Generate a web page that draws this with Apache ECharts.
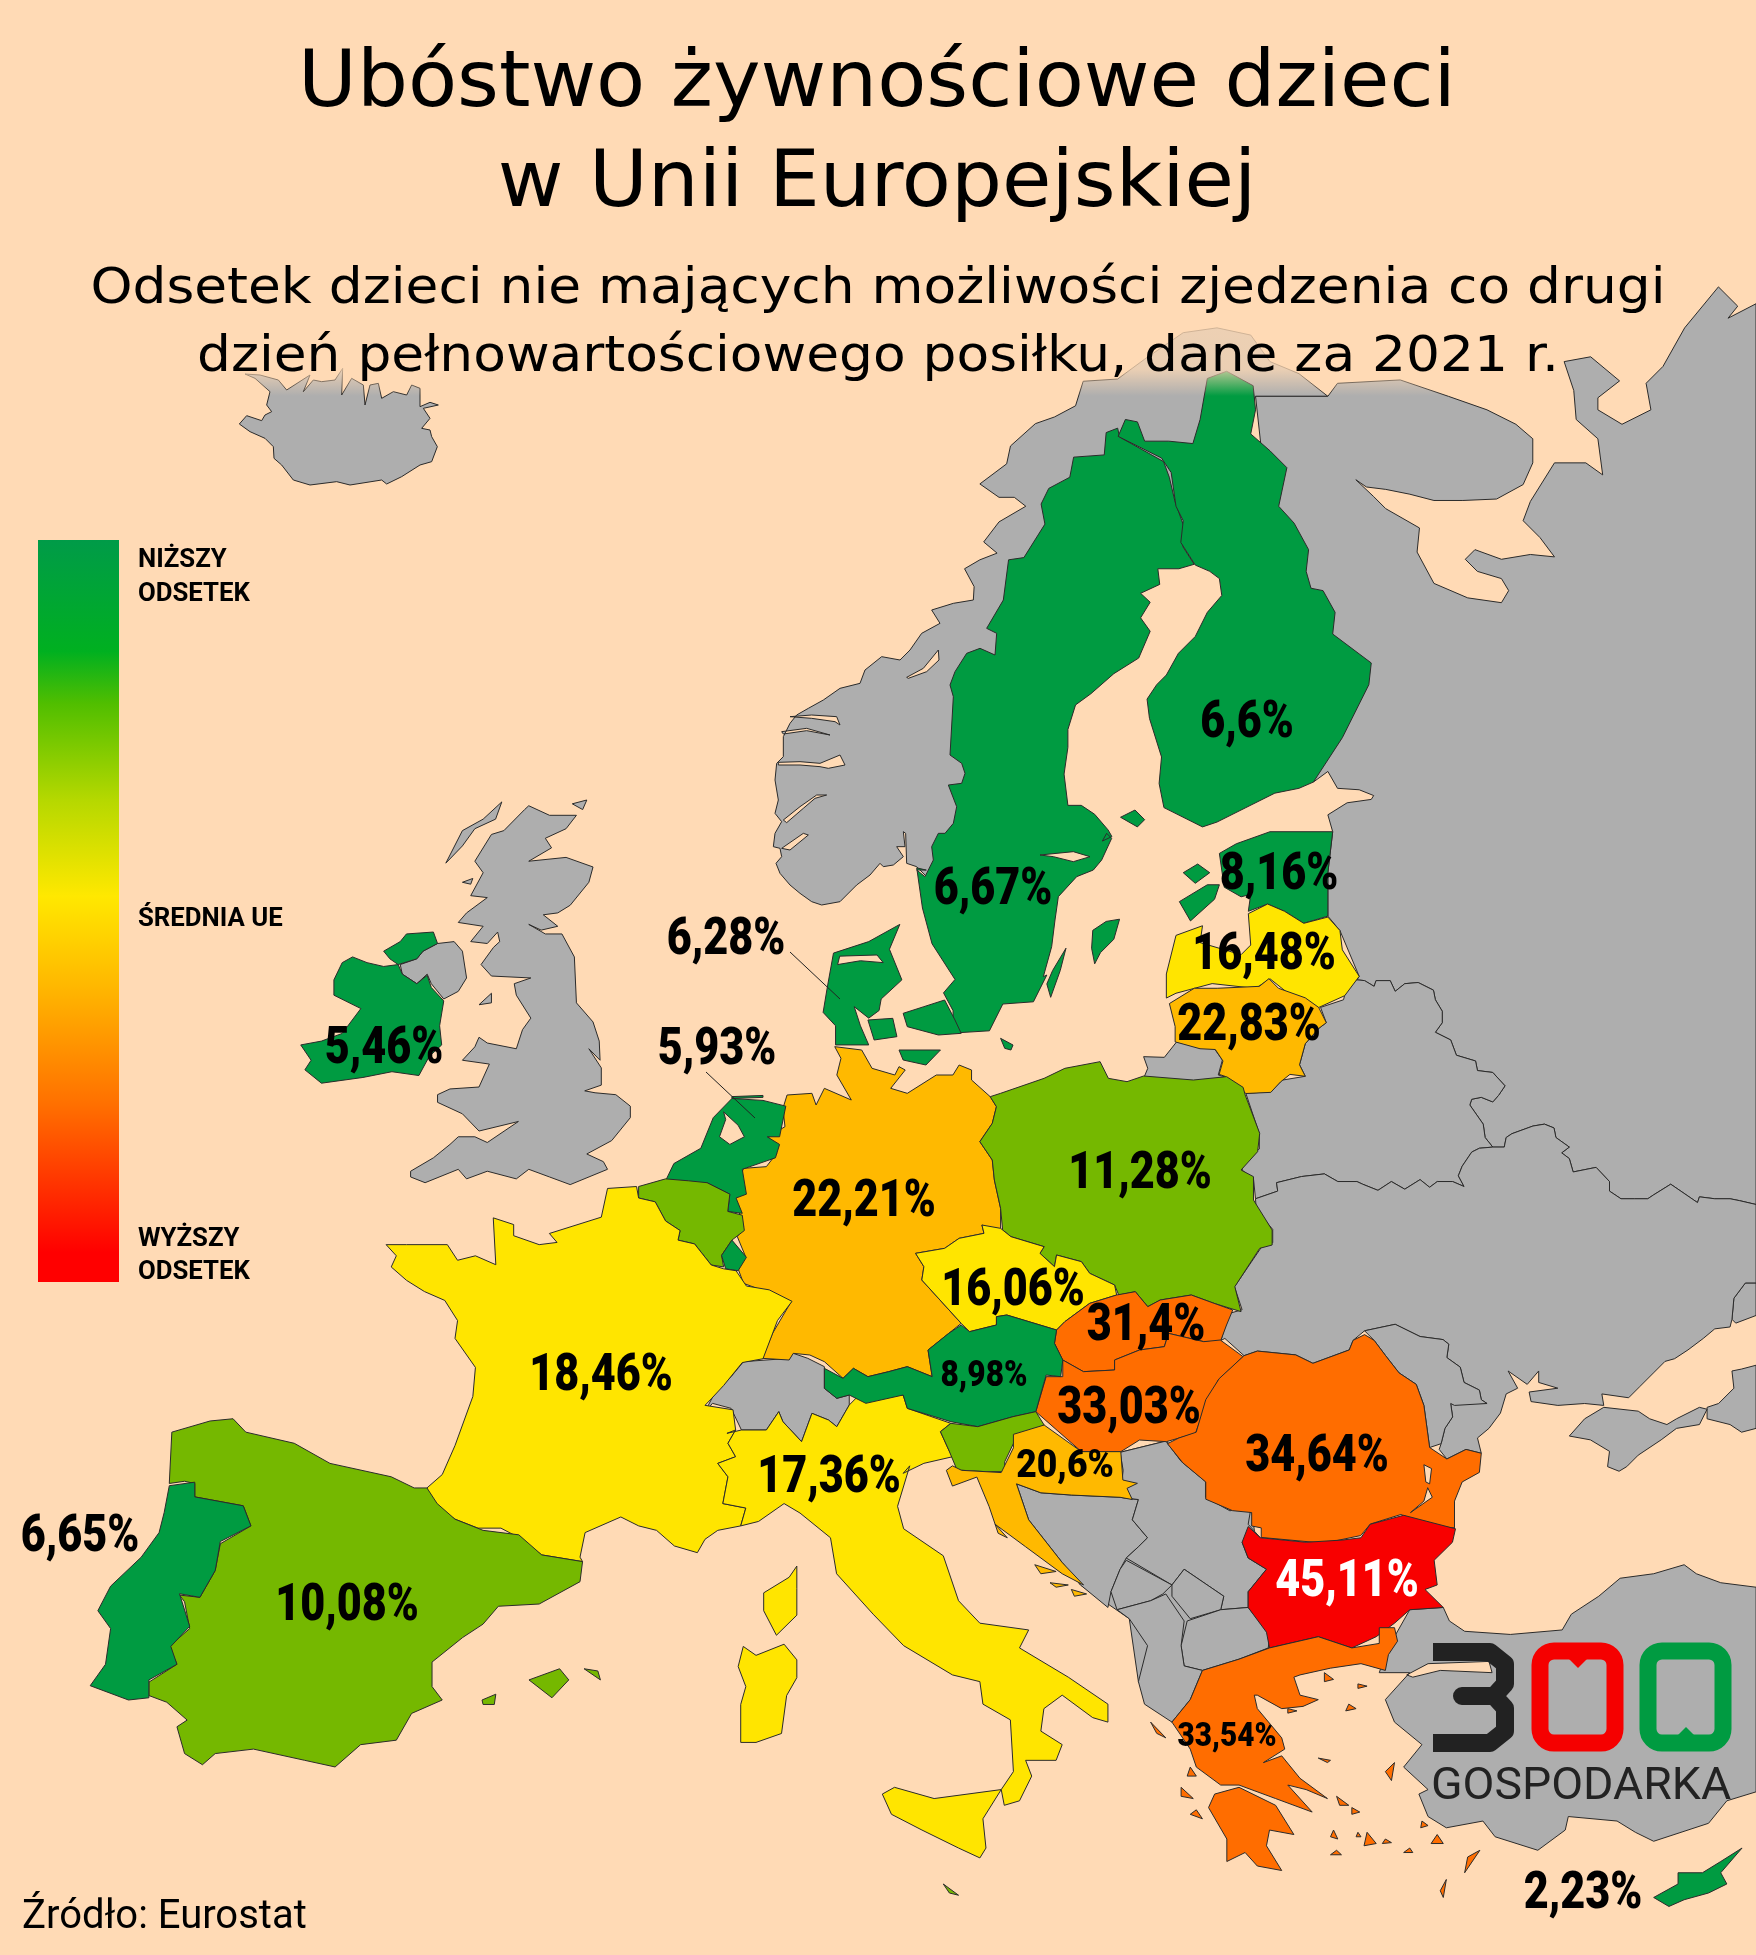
<!DOCTYPE html>
<html lang="pl"><head><meta charset="utf-8">
<style>html,body{margin:0;padding:0;background:#FFDAB5}#c{width:1756px;height:1955px}</style>
<script src="https://cdn.jsdelivr.net/npm/echarts@6/dist/echarts.min.js"></script>
</head><body><div id="c"></div>
<script>
// ---------- data ----------
const titleLines = ['Ubóstwo żywnościowe dzieci','w Unii Europejskiej'];
const subtitleLines = ['Odsetek dzieci nie mających możliwości zjedzenia co drugi','dzień pełnowartościowego posiłku, dane za 2021 r.'];
const sourceText = 'Źródło: Eurostat';
const countries = ['Finlandia','Szwecja','Estonia','Łotwa','Litwa','Irlandia','Dania','Holandia','Niemcy','Polska','Czechy','Słowacja','Austria','Węgry','Rumunia','Francja','Włochy','Chorwacja','Hiszpania','Portugalia','Bułgaria','Grecja','Cypr'];
const values    = [6.6,6.67,8.16,16.48,22.83,5.46,6.28,5.93,22.21,11.28,16.06,31.4,8.98,33.03,34.64,18.46,17.36,20.6,10.08,6.65,45.11,33.54,2.23];
const labelText = ['6,6%','6,67%','8,16%','16,48%','22,83%','5,46%','6,28%','5,93%','22,21%','11,28%','16,06%','31,4%','8,98%','33,03%','34,64%','18,46%','17,36%','20,6%','10,08%','6,65%','45,11%','33,54%','2,23%'];
const unlabelled = ['Belgia','Luksemburg','Słowenia','Malta'];
const unlabelledValues = [10.5,6.5,11,11];
const colorBins = [[10,'#009B41'],[14,'#75B800'],[20,'#FFE500'],[26,'#FFB900'],[40,'#FF6D00'],[99,'#F80000']];
const legendStops = [[0,'#009B48'],[0.15,'#00B020'],[0.22,'#50BE00'],[0.35,'#B5D800'],[0.48,'#FFE800'],[0.6,'#FFB800'],[0.76,'#FF7000'],[0.96,'#FF0000'],[1,'#FF0000']];
const legendTexts = ['NIŻSZY','ODSETEK','ŚREDNIA UE','WYŻSZY','ODSETEK'];

// traced outlines: letter = tracing frame, then x,y pairs
const frames = {A:[800,350,2.613,2.24],B:[280,800,2.412,2.613],C:[700,1000,2.412,3],D:[80,1200,1.96,2.24],E:[800,1250,1.64,2.224],F:[1000,270,2.074,2.074],G:[1156,950,2.613,2.613],H:[740,600,3,3],I:[200,350,3,3]};
const greyLand = {
 'Bałkany':["E 355,520 525,450 600,425 740,570 770,885 660,935 610,1050 555,960 540,820 460,745 430,695"],
 'Islandia':["I 135,72 165,85 210,125 200,165 215,185 195,195 185,212 140,197 118,222 150,245 195,265 220,290 222,325 245,345 280,390 330,405 410,395 450,405 545,390 560,402 605,380 660,345 695,335 712,290 695,260 690,240 665,235 690,205 670,175 715,165 690,157 660,170 660,115 635,105 620,135 580,125 545,145 535,100 510,105 495,165 490,105 455,85 425,135 428,55 405,90 365,95 340,90 310,125 330,75 260,120 235,90 180,75"],
 'Norwegia':[["H 560,830 530,800 500,790 497,700 490,695 495,740 470,740 490,770 460,795 430,800 420,790 390,825 350,855 300,905 245,915 215,905 180,880 150,855 120,820 108,790 125,770 120,745 100,740 105,700 125,665 105,640 115,600 105,540 110,490 130,470 130,410 150,370 170,345 205,325 250,300 300,265 360,250 375,210 425,170 480,180 510,150 545,100 600,70 575,30 640,10 700,0 A 455,530 430,490 470,470 515,455 480,430 520,385 590,350 560,330 520,330 470,300 540,255 550,215 615,165 665,150 720,125 740,70 830,65 F 300,185 380,130 450,120 520,135 560,190 620,215 680,262 530,262 F 420,500 H 800,300 800,500 720,760",
   "H 115,487 180,485 240,490 300,465 315,495 265,505 240,500 180,495 115,495","H 130,660 180,620 230,585 260,585 225,595 190,625 140,668","H 500,232 550,205 595,150 597,180 560,215 505,235","H 125,395 200,385 270,405 200,392 130,402","H 125,745 190,700 205,705 150,750","H 150,350 215,345 290,350 300,375 285,365 215,355"]],
 'Rosja':["F 530,262 680,262 700,235 830,228 930,262 1010,290 1070,320 1105,350 1105,400 1085,445 1030,475 960,478 900,478 850,465 800,455 760,450 738,435 775,470 800,495 870,535 865,585 900,650 970,680 1040,690 1055,665 1040,640 990,625 965,600 985,580 1040,600 1100,590 1150,595 1120,555 1085,520 1100,480 1150,400 1215,400 1250,425 1240,350 1195,310 1190,250 1170,190 1225,180 1285,230 1240,265 1240,290 1290,320 1350,290 1340,235 1375,200 1420,120 1490,35 1530,75 1510,100 1568,70 G 1568,665 1525,655 1500,650 1460,650 1420,645 1415,660 1345,612 1300,640 1285,650 1250,650 1215,650 1185,630 1185,605 1150,568 1090,580 1080,545 1060,530 1080,515 1045,490 1040,465 1015,455 985,460 930,480 915,490 910,515 880,515 860,490 855,455 820,405 825,390 850,385 880,397 895,380 912,355 880,320 840,315 835,290 785,275 770,235 730,215 748,190 748,160 730,130 725,105 685,85 650,88 625,108 612,80 575,80 570,95 545,80 525,78 F 745,1465 705,1370 680,1340 680,1250 690,1165 680,1130 720,1105 770,1098 775,1090 745,1078 700,1075 680,1040 650,1062 600,900",
   "C 1070,170 1120,172 1150,125 1180,135 1240,145 1260,180 1250,225 1270,232 1190,245 1070,235 1080,205",
   "G 1568,870 1540,870 1510,910 1505,965 1515,975 1568,955",
   "G 1568,1085 1530,1095 1505,1100 1510,1145 1470,1185 1440,1195 1440,1225 1500,1240 1530,1260 1568,1250"],
 'Białoruś':["G 525,78 545,80 570,95 575,80 612,80 625,108 650,88 685,85 725,105 730,130 748,160 748,190 730,215 770,235 785,275 835,290 840,315 880,320 912,355 895,380 880,397 850,385 825,390 820,405 855,455 860,490 880,515 845,518 825,528 800,565 790,590 805,618 775,605 735,605 715,620 690,600 650,625 615,605 580,628 540,612 525,605 475,605 440,585 380,592 315,608 318,630 260,650 255,600 225,575 235,535 270,520 270,480 235,375 300,370 330,340 390,330 375,300 390,245 425,205 445,190 430,150 490,130 500,90"],
 'Ukraina':["G 260,650 318,630 315,608 380,592 440,585 475,605 525,605 540,612 580,628 615,605 650,625 690,600 715,620 735,605 775,605 805,618 790,590 800,565 825,528 845,518 880,515 910,515 915,490 930,480 985,460 1015,455 1040,465 1045,490 1080,515 1060,530 1080,545 1090,580 1150,568 1185,605 1185,630 1215,650 1250,650 1285,650 1300,640 1345,612 1415,660 1420,645 1460,650 1500,650 1525,655 1568,665 1568,870 1540,870 1510,910 1505,965 1500,985 1460,990 1430,1015 1390,1045 1355,1068 1330,1075 1300,1105 1265,1140 1235,1170 1165,1160 1170,1190 1120,1185 1050,1190 980,1180 975,1155 1050,1145 1000,1130 1000,1100 970,1135 920,1100 945,1145 915,1160 900,1210 870,1250 840,1275 850,1315 810,1305 760,1330 740,1305 745,1290 755,1250 775,1220 770,1185 865,1185 850,1175 845,1150 805,1130 795,1090 760,1065 765,1030 750,1018 690,1010 625,978 545,995 515,1020 505,1045 410,1080 365,1058 265,1048 230,1060 180,1015 170,1020 190,950 225,940 205,880 280,770 305,765 305,730 262,680",
   "G 1080,1270 1120,1225 1170,1195 1260,1205 1290,1225 1335,1240 1360,1225 1420,1195 1440,1200 1420,1240 1360,1250 1320,1280 1260,1320 1230,1350 1210,1362 1180,1350 1185,1310 1135,1280"],
 'Mołdawia':["G 545,995 625,978 690,1010 750,1018 765,1030 760,1065 795,1090 805,1130 845,1150 850,1175 865,1185 780,1190 770,1185 775,1220 755,1250 745,1290 715,1300 700,1190 680,1135 635,1105 600,1060 570,1020"],
 'Turcja':[["E 1055,795 1065,825 1090,848 1165,855 1250,845 1265,810 1310,770 1345,730 1400,720 1450,700 1470,720 1510,740 1568,750 1568,1205 1520,1225 1490,1275 1400,1315 1370,1295 1340,1270 1260,1260 1255,1290 1210,1335 1140,1305 1120,1270 1060,1285 1030,1260 1015,1210 1030,1200 990,1150 1020,1100 975,1050 960,1000 1000,940 950,940 965,880 975,860 1000,800",
   "E 995,945 1030,920 1130,915 1135,940 1050,935 1005,950"]],
 'Bośnia':["E 355,520 395,540 445,545 525,550 555,555 545,600 570,640 555,660 535,685 525,710 510,760 505,795 460,745 430,695 375,600"],
 'Serbia':["E 525,450 600,425 625,470 665,515 665,550 705,580 740,570 735,610 755,640 725,650 735,685 765,710 735,760 735,795 690,800 695,770 630,710 610,745 535,685 555,660 570,640 545,600 555,555 525,550 530,490"],
 'Czarnogóra':["E 510,760 525,710 535,690 610,745 595,765 575,780 520,800"],
 'Kosowo':["E 610,745 630,710 695,770 690,800 640,820 610,770"],
 'Macedonia':["E 635,825 690,800 735,795 770,855 768,885 720,910 660,935 630,925 625,880"],
 'Albania':["E 520,800 575,780 600,765 630,825 625,880 630,925 660,935 640,1000 610,1050 565,1010 555,960 570,880 555,850 540,820"],
 'Szwajcaria':["C 105,1085 215,1075 225,1060 260,1075 300,1100 300,1165 330,1195 360,1185 360,1215 330,1280 310,1260 270,1240 245,1325 200,1265 190,1235 160,1290 100,1290 75,1225 30,1210 10,1240 35,1180 75,1130"],
 'Andora':["D 865,775 880,767 890,780 870,790"],
 'Wielka Brytania':["B 600,15 650,40 715,40 690,75 640,100 655,125 600,160 690,150 755,175 745,215 700,275 670,295 635,300 670,330 630,340 600,325 640,350 680,350 710,410 715,530 755,580 770,630 772,680 745,650 775,700 775,745 735,760 760,765 810,770 845,800 845,830 800,890 740,925 780,945 790,965 700,1005 650,985 600,965 570,990 500,970 450,990 430,965 350,1000 315,985 315,970 370,935 410,900 430,880 470,880 500,895 575,840 480,865 440,820 380,790 380,770 410,755 480,750 505,690 440,680 470,645 480,620 500,635 570,650 585,600 605,570 570,510 565,480 605,465 510,460 485,430 515,385 530,370 525,345 500,375 460,370 490,330 430,320 450,295 500,255 460,250 490,190 470,160 510,90 540,80 590,25",
   "B 400,165 440,80 490,50 535,5 520,50 470,75 440,120","B 290,430 330,415 345,395 380,375 420,370 440,395 450,465 430,500 395,520 365,480 355,455 330,480 295,455","B 480,535 510,505 510,530","B 440,215 465,205 460,220","B 705,10 740,0 730,25"]
};
const euLand = {
 'Szwecja':[["A 800,185 830,175 835,195 950,250 965,285 980,340 1005,400 1000,440 1030,480 990,490 935,490 940,525 890,545 915,565 890,600 915,630 885,690 820,725 760,770 720,795 700,850 700,890 690,950 700,1020 735,1020 770,1040 805,1075 815,1090 790,1100 H 1100,700 1115,715 1085,780 1060,810 1010,830 955,890 945,960 935,1040 910,1130 A 645,1400 610,1460 530,1465 495,1525 400,1530 400,1480 375,1440 405,1410 345,1330 320,1250 305,1160 330,1165 H 530,810 555,830 580,780 575,740 595,700 615,700 640,670 650,620 625,555 665,550 675,520 665,490 630,465 640,290 630,255 645,215 680,160 720,145 765,165 770,100 740,85 790,0 A 545,470 585,465 640,390 630,345 650,310 705,285 715,240 795,235",
   "H 900,765 1000,755 1050,770 1000,785 940,770"],
   "A 765,1300 800,1280 835,1275 820,1320 785,1350 770,1375 762,1340","A 695,1340 680,1390 655,1450 645,1420 660,1390"],
 'Finlandia':["F 430,225 470,210 525,240 530,290 520,340 560,375 595,410 578,490 610,525 640,580 635,625 645,660 670,665 695,710 690,755 770,815 765,860 710,970 650,1062 620,1075 570,1085 510,1115 450,1145 420,1155 340,1115 330,1065 335,1010 310,930 305,890 325,860 345,840 370,795 405,760 430,710 460,675 455,640 435,625 405,612 375,565 380,520 365,490 355,420 335,390 245,345 260,310 285,315 300,355 350,355 400,360 415,310","F 250,1135 280,1120 300,1140 285,1155"],
 'Estonia':["F 455,1210 490,1190 560,1165 690,1165 680,1250 680,1340 630,1355 590,1330 555,1315 515,1330 520,1295 500,1300 465,1280","F 372,1310 430,1275 455,1275 445,1305 395,1350","F 380,1250 410,1232 435,1250 405,1272"],
 'Łotwa':["F 515,1335 555,1315 590,1330 630,1355 680,1342 705,1370 710,1410 745,1465 715,1505 660,1530 610,1510 560,1470 530,1490 440,1480 365,1500 345,1510 345,1460 365,1380 420,1360 415,1395 500,1420 520,1400"],
 'Litwa':["G 35,140 100,100 160,100 270,95 295,75 320,100 390,125 425,150 445,190 425,205 390,245 375,300 390,330 350,325 325,345 300,372 235,375 180,330 165,325 175,290 155,260 115,258 50,240 50,200"],
 'Irlandia':["B 150,425 175,410 210,425 250,435 285,430 295,455 330,480 355,458 365,490 395,525 385,590 390,640 360,670 335,720 270,710 200,725 100,740 60,705 75,680 50,640 100,630 150,610 195,545 130,510 130,470","B 250,395 290,370 305,350 370,345 380,375 345,395 330,415 285,430 265,415"],
 'Dania':[["B 1495,325 1470,390 1500,470 1450,520 1445,550 1420,570 1385,540 1400,590 1420,640 1340,640 1340,590 1310,555 1320,490 1335,400 1420,370","B 1350,408 1440,405 1455,425 1400,420 1345,430"],"C 405,60 465,55 475,110 420,120","C 490,40 540,20 590,0 615,60 630,100 575,105 500,80","C 480,150 580,150 545,195 490,180","C 725,115 755,135 750,150 735,145"],
 'Niemcy':["C 325,140 390,150 415,205 470,225 480,200 495,210 460,265 500,280 570,225 610,225 625,195 655,210 655,240 700,290 715,320 705,370 675,425 705,480 710,540 725,625 725,700 680,675 685,700 625,715 590,745 520,760 540,800 535,840 630,970 600,1000 550,1050 560,1130 500,1100 455,1115 405,1130 370,1105 345,1135 300,1085 265,1065 225,1060 215,1080 150,1075 175,1000 220,905 170,880 105,850 90,800 110,770 90,710 105,680 90,620 75,600 105,505 160,500 185,460 165,410 205,380 200,325 210,285 270,280 280,315 300,265 365,300 330,225 340,175"],
 'Holandia':[["B 1220,800 1205,880 1175,880 1205,900 1195,935 1115,965 1125,1030 1100,1040 1115,1080 1080,1075 1085,1030 1030,1000 995,1010 985,995 930,995 950,950 1015,910 1045,830 1090,780 1165,785","B 1070,815 1105,850 1120,880 1085,900 1060,880 1075,835"],"B 1090,775 1165,772 1165,777 1090,780"],
 'Belgia':["B 865,1010 930,990 985,995 1030,1000 1085,1030 1080,1075 1115,1085 1120,1125 1090,1150 1065,1190 1070,1220 1040,1215 1000,1160 960,1150 965,1125 930,1100 905,1050 865,1040"],
 'Luksemburg':["B 1090,1150 1125,1195 1105,1230 1075,1225 1065,1190"],
 'Francja':["B 775,1090 790,1015 860,1010 865,1040 905,1050 930,1100 965,1125 960,1150 1000,1160 1040,1215 1070,1225 1100,1230 1125,1270 1180,1280 1235,1310 1200,1360 1165,1460 1115,1470 1070,1530 1040,1565 D 1225,460 1280,470 1285,515 1270,545 1285,575 1250,590 1270,620 1260,680 1305,690 1295,730 1250,740 1225,760 1210,790 1165,775 1130,740 1095,730 1060,710 990,745 980,800 985,810 905,795 850,750 825,735 780,735 735,715 690,680 680,645 710,615 735,550 770,440 775,375 735,310 740,270 715,225 675,205 640,180 610,150 620,125 600,100 640,100 720,100 740,135 775,125 815,145 810,40 850,55 850,80 900,100 935,95 920,75","D 1405,820 1405,870 1405,930 1365,975 1340,920 1340,880 1390,845"],
 'Hiszpania':["D 175,635 180,520 255,495 300,490 325,520 420,545 490,590 610,620 655,645 680,645 700,680 735,715 790,740 860,750 905,795 985,810 980,855 900,905 820,910 790,950 750,980 690,1035 690,1090 710,1120 650,1150 620,1210 550,1220 500,1270 440,1255 340,1230 265,1240 240,1265 205,1240 190,1180 210,1165 170,1125 135,1110 135,1080 190,1040 175,1000 215,960 205,900 195,885 235,890 265,830 275,770 335,730 320,685 225,665 225,635 205,630","D 880,1075 940,1050 958,1075 925,1115","D 988,1050 1015,1055 1020,1075","D 788,1120 815,1107 812,1130 790,1130"],
 'Portugalia':["D 175,640 225,632 225,665 320,685 335,730 275,765 265,830 235,890 195,882 215,955 178,1000 190,1040 135,1075 135,1115 95,1120 20,1088 50,1040 60,960 35,920 60,865 120,800 155,745 165,700"],
 'Włochy':["C 65,1300 100,1290 160,1290 190,1235 200,1265 245,1325 270,1240 310,1260 330,1280 360,1215 380,1190 490,1185 500,1225 605,1270 580,1295 600,1350 610,1370 540,1390 490,1420 E 180,480 160,570 170,620 235,680 260,780 295,830 375,845 360,885 440,950 505,1010 505,1050 480,1040 430,990 400,1020 395,1070 430,1100 420,1135 370,1135 380,1170 360,1225 335,1235 330,1200 350,1160 345,1045 300,1010 295,960 250,945 170,880 120,810 60,720 50,640 0,585 D 1380,680 1330,720 1295,730 1305,690 1260,680 1270,620 1250,590 1285,575 1270,545 1285,515","E 135,1210 155,1195 220,1220 330,1200 300,1265 305,1330 295,1352 260,1330 200,1290 150,1255","D 1300,1000 1325,1020 1380,995 1405,1030 1405,1070 1385,1110 1375,1195 1325,1215 1295,1215 1295,1130 1305,1090 1290,1045"],
 'Malta':["E 235,1410 260,1435 245,1430"],
 'Polska':["C 725,280 830,235 880,205 965,185 985,235 1030,245 1070,228 1190,240 1270,230 1310,262 1315,285 1350,400 1345,455 1305,510 1335,530 1335,600 1380,690 1380,735 1350,745 1290,860 1305,935 1240,910 1185,885 1110,900 1080,920 1050,875 1010,885 1000,855 940,820 920,785 860,765 855,800 820,760 830,740 750,710 730,690 725,625 710,540 705,480 675,425 705,370 715,320 700,290"],
 'Czechy':["C 725,685 750,710 830,740 820,760 855,800 860,765 920,785 940,820 1000,855 1005,885 940,910 880,965 860,990 820,975 740,945 715,950 715,975 650,995 630,970 535,840 540,800 520,760 590,745 625,715 685,700 680,675"],
 'Słowacja':["C 1005,885 1050,875 1080,920 1110,900 1185,885 1240,910 1285,930 1270,975 1255,1025 1215,1025 1130,1000 1120,1040 1060,1050 1000,1080 1000,1110 925,1115 875,1080 855,1030 860,990 880,965 940,910"],
 'Węgry':["C 875,1080 925,1115 1000,1110 1000,1080 1060,1050 1120,1040 1130,1000 1215,1025 1255,1020 1310,1070 1250,1140 1220,1215 1195,1300 1125,1325 1060,1320 1015,1355 920,1355 810,1235 835,1130 875,1130"],
 'Austria':["C 630,975 650,995 715,975 715,950 740,945 820,975 860,990 855,1030 875,1080 870,1130 835,1125 820,1190 810,1235 755,1250 670,1280 605,1265 500,1225 490,1185 400,1210 360,1185 330,1195 300,1165 300,1105 345,1135 370,1105 405,1130 455,1115 500,1100 560,1130 550,1050 600,1000"],
 'Słowenia':["C 605,1270 670,1280 755,1250 810,1235 830,1275 760,1320 735,1385 735,1415 690,1415 620,1410 600,1350 580,1295"],
 'Chorwacja':["C 830,1275 920,1355 1015,1355 1020,1440 1055,1450 1030,1465 E 545,555 525,550 445,545 395,540 355,520 375,600 430,695 465,745 430,720 370,660 320,610 310,570 290,505 250,525 240,490 250,480 265,490 330,495 350,440 350,410","E 385,700 420,715 395,720","E 410,740 440,745 420,750","E 445,755 470,765 450,770","E 320,610 340,640 325,630"],
 'Rumunia':[["G 545,1005 570,1020 600,1060 635,1105 680,1135 700,1190 715,1300 760,1330 810,1305 850,1315 845,1365 800,1390 780,1440 780,1510 715,1505 640,1475 560,1500 535,1530 440,1550 275,1535 275,1510 250,1505 250,1470 200,1465 130,1435 130,1390 70,1340 30,1290 60,1275 105,1260 130,1175 165,1120 230,1060 265,1048 365,1058 410,1080 505,1045 515,1020","G 700,1345 720,1355 715,1395 705,1390","G 710,1405 722,1430 665,1470 700,1440"]],
 'Bułgaria':["E 735,615 755,640 830,650 890,645 920,640 935,610 990,590 1075,620 1070,650 1040,690 1045,745 1025,755 1055,795 1000,800 975,830 945,860 905,885 850,860 770,885 765,850 735,795 735,760 765,710 735,685 725,650"],
 'Grecja':["E 770,885 850,860 905,885 950,875 950,840 975,840 980,870 965,900 960,935 920,920 870,930 820,945 810,950 820,990 850,1000 825,1015 790,1020 750,990 745,990 750,1020 790,1085 795,1110 760,1140 790,1125 820,1175 865,1220 830,1200 800,1190 840,1250 780,1220 720,1190 690,1190 650,1150 640,1110 610,1050 640,1000 660,935 720,910","E 680,1210 720,1195 780,1235 810,1300 770,1290 765,1325 790,1380 750,1370 730,1340 700,1360 700,1310 670,1240","E 960,1160 975,1140 970,1180","E 575,1050 600,1085 585,1075","E 1115,1335 1090,1385 1095,1350","E 1060,1400 1055,1440 1050,1425","E 650,1245 660,1265 640,1255","E 625,1195 645,1220 625,1215","E 1045,1300 1055,1320 1035,1320","E 930,1295 945,1320 925,1325","E 880,1215 900,1235 885,1235","E 860,940 875,955 860,960","E 900,1010 912,1020 895,1025","E 880,1335 888,1345 870,1345","E 800,1020 815,1025 800,1030","E 640,1150 650,1170 635,1170","E 915,965 930,970 915,975","E 1000,1330 1005,1340 990,1340","E 915,1295 920,1305 912,1305","E 850,1130 870,1135 865,1140","E 905,1240 918,1250 905,1255","E 875,1290 882,1310 870,1305","E 960,1310 970,1318 955,1320","E 1020,1270 1030,1280 1018,1285"],
 'Cypr':["E 1400,1440 1440,1410 1440,1385 1480,1385 1510,1360 1545,1330 1510,1385 1520,1410 1490,1430 1450,1445 1425,1460"]
};
const labelAnchors = {'Finlandia':[1247,724],'Szwecja':[993,891],'Estonia':[1279,876],'Łotwa':[1264,956],'Litwa':[1249,1027],'Irlandia':[384,1050],'Dania':[726,941],'Holandia':[717,1051],'Niemcy':[864,1203],'Polska':[1140,1175],'Czechy':[1013,1292],'Słowacja':[1146,1327],'Austria':[984,1377],'Węgry':[1129,1410],'Rumunia':[1317,1458],'Francja':[601,1377],'Włochy':[829,1479],'Chorwacja':[1065,1467],'Hiszpania':[347,1607],'Portugalia':[80,1538],'Bułgaria':[1347,1583],'Grecja':[1227,1738],'Cypr':[1583,1895]};
const labelSizes = {'Austria':36,'Chorwacja':39,'Grecja':33};
const labelSqueeze = {'Austria':0.88,'Chorwacja':0.91,'Grecja':0.9};
const leaders = [[[790,952],[840,999]],[[706,1072],[755,1118]]];

// ---------- geometry ----------
const parseRing = s => {
  let f = null; const out = [];
  s.trim().split(/\s+/).forEach(t => {
    if (/^[A-I]$/.test(t)) { f = frames[t]; return; }
    const [x,y] = t.split(',').map(Number);
    out.push([f[0]+x/f[2], -(f[1]+y/f[3])]);
  });
  return out;
};
const area = r => r.reduce((a,p,i)=>{const q=r[(i+1)%r.length];return a+p[0]*q[1]-q[0]*p[1];},0);
const toPolygon = p => {
  const rings = (Array.isArray(p)?p:[p]).map(parseRing);
  const sign = area(rings[0]);
  return rings.map((r,i)=>{
    if (i>0 && area(r)*sign>0) r.reverse();
    const c=r.slice(); c.push(r[0]); return c;
  });
};
const features = Object.entries(Object.assign({},greyLand,euLand)).map(([name,polys])=>
  ({type:'Feature',properties:{name},geometry:{type:'MultiPolygon',coordinates:polys.map(toPolygon)}}));
echarts.registerMap('europa',{type:'FeatureCollection',features});

const colorOf = v => colorBins.find(b=>v<=b[0])[1];
const regionData = countries.map((name,i)=>({name,value:values[i],itemStyle:{areaColor:colorOf(values[i])}}))
  .concat(unlabelled.map((name,i)=>({name,value:unlabelledValues[i],itemStyle:{areaColor:colorOf(unlabelledValues[i])}})));
const labelData = countries.map((name,i)=>[labelAnchors[name][0],-labelAnchors[name][1],values[i]]);

const textEl = (text,x,y,o,sx) => ({type:'text',z:10,silent:true,x,y,scaleX:sx||1,
  style:Object.assign({text,align:'left',verticalAlign:'middle',fill:'#000'},o)});
const stroke = (c,w)=>({stroke:c,lineWidth:w,fill:'none'});
const bbox = [[0,0],[1756,-1955]];
const legendFont = {fontFamily:'Roboto',fontWeight:'bold',fontSize:25};
const legendY = [561,595,920,1240,1273];
const titleFont = {fontFamily:'"DejaVu Sans"',fontSize:78,align:'center'};
const subFont = {fontFamily:'"DejaVu Sans"',fontSize:50,align:'center'};

const chart = echarts.init(document.getElementById('c'),null,{renderer:'canvas'});
chart.setOption({
  animation:false,
  backgroundColor:'#FFDAB5',
  geo:{map:'europa',left:0,top:0,right:0,bottom:0,aspectScale:1,boundingCoords:bbox,silent:true,
    itemStyle:{areaColor:'transparent',borderWidth:0},label:{show:false},emphasis:{disabled:true}},
  series:[
    {type:'map',map:'europa',left:0,top:0,right:0,bottom:0,aspectScale:1,boundingCoords:bbox,silent:true,z:2,
     selectedMode:false,emphasis:{disabled:true},showLegendSymbol:false,
     itemStyle:{areaColor:'#AEAEAE',borderColor:'#2b2b2b',borderWidth:1},
     label:{show:false},
     data:regionData},
    {type:'lines',coordinateSystem:'geo',silent:true,z:3,symbol:'none',
     lineStyle:{color:'#222',width:1,opacity:1},
     data:leaders.map(l=>({coords:l.map(p=>[p[0],-p[1]])}))},
    {type:'custom',coordinateSystem:'geo',silent:true,z:6,clip:false,data:labelData,
     renderItem:(params,api)=>{
       const name=countries[params.dataIndex];
       const p=api.coord([api.value(0),api.value(1)]);
       return {type:'text',x:p[0],y:p[1],scaleX:labelSqueeze[name]||0.83,silent:true,
         style:{text:labelText[params.dataIndex],align:'center',verticalAlign:'middle',
           fontFamily:'Roboto',fontWeight:900,fontSize:labelSizes[name]||52,
           fill:name==='Bułgaria'?'#fff':'#000'}};
     }}
  ],
  graphic:{elements:[
    {type:'rect',z:4,silent:true,shape:{x:150,y:300,width:1412,height:96},
     style:{fill:new echarts.graphic.LinearGradient(0,0,0,1,[{offset:0,color:'rgba(255,218,181,0.8)'},{offset:0.72,color:'rgba(255,218,181,0.75)'},{offset:1,color:'rgba(255,218,181,0)'}])}},
    textEl(titleLines[0],877,86,titleFont,1.03),
    textEl(titleLines[1],877,186,titleFont,1.03),
    textEl(subtitleLines[0],878,290,subFont,1.068),
    textEl(subtitleLines[1],878,358,subFont,1.068),
    textEl(sourceText,22,1918,{fontFamily:'Roboto',fontSize:40}),
    {type:'rect',z:5,silent:true,shape:{x:38,y:540,width:81,height:742},
     style:{fill:new echarts.graphic.LinearGradient(0,0,0,1,legendStops.map(s=>({offset:s[0],color:s[1]})))}},
    ...legendTexts.map((t,i)=>textEl(t,138,legendY[i],legendFont,1.03)),
    {type:'polyline',z:5,silent:true,shape:{points:[[1433,1652],[1490,1652],[1505,1664],[1505,1684],[1494,1696],[1462,1696],[1494,1696],[1505,1708],[1505,1731],[1490,1743],[1433,1743]]},style:Object.assign(stroke('#222',18),{lineJoin:'round'})},
    {type:'rect',z:5,silent:true,shape:{x:1540,y:1651,width:75,height:92,r:14},style:stroke('#F50000',17)},
    {type:'polygon',z:5,silent:true,shape:{points:[[1562,1652],[1594,1652],[1578,1668]]},style:{fill:'#F50000'}},
    {type:'rect',z:5,silent:true,shape:{x:1648,y:1651,width:75,height:92,r:14},style:stroke('#009B41',17)},
    {type:'polygon',z:5,silent:true,shape:{points:[[1670,1743],[1702,1743],[1686,1727]]},style:{fill:'#009B41'}},
    textEl('GOSPODARKA',1431,1788,{fontFamily:'Roboto',fontSize:45,fill:'#222'},1.03)
  ]}
});
</script></body></html>
